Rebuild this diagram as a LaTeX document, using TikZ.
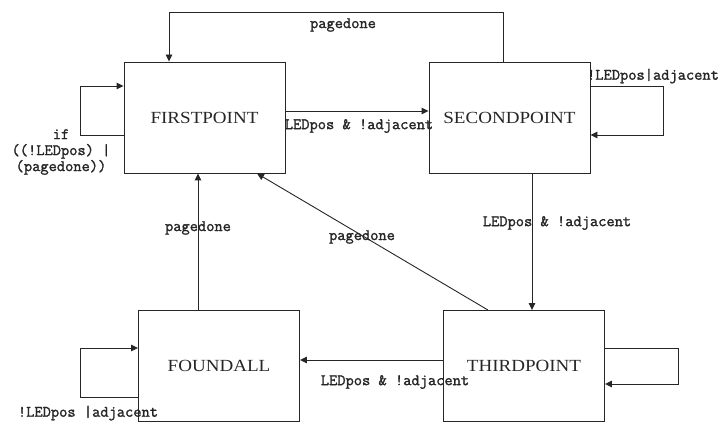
\documentclass[tikz,border=0pt]{standalone}
\usepackage{fontspec}
\setmainfont{Liberation Serif}
\newfontfamily\courlike[FakeBold=1.6]{Latin Modern Mono}
\usetikzlibrary{arrows.meta}
\tikzset{
  statebox/.style={draw=black!85, line width=0.9pt, minimum width=161pt, minimum height=111pt, inner sep=0pt,
    font=\fontsize{17}{19}\selectfont, text=black!85},
  arr/.style={draw=black!85, line width=0.9pt, -{Triangle[length=7pt,width=6.5pt]}},
  lbl/.style={font=\courlike\fontsize{16}{16}\selectfont, text=black!85, inner sep=0pt},
}
\newcommand{\wide}[1]{\scalebox{1.12}[1]{#1}}
\begin{document}
\begin{tikzpicture}[x=1pt,y=-1pt]
\useasboundingbox (0,0) rectangle (722,422);
\node[statebox] (first)  at (204.5,117.5) {\wide{FIRSTPOINT}};
\node[statebox] (second) at (509.5,117.5) {\wide{SECONDPOINT}};
\node[statebox] (found)  at (219,366) {\wide{FOUNDALL}};
\node[statebox] (third)  at (524,366) {\wide{THIRDPOINT}};
\coordinate (topcorner) at (169,12);
% top pagedone loop
\draw[arr] ([xshift=-6.5pt]second.north) |- (topcorner) -- ([xshift=-35.5pt]first.north);
\node[lbl] (l1) at (343,25) {pagedone};
% first -> second
\draw[arr] ([yshift=6.5pt]first.east) -- ([yshift=6.5pt]second.west);
\node[lbl] (l2) at (359,126) {LEDpos \& !adjacent};
% first self loop
\draw[arr] ([yshift=-17.5pt]first.west) -- ++(-43,0) |- ([yshift=31.5pt]first.west);
\node[lbl, align=center] (l3) at (61,152) {if\\((!LEDpos) |\\(pagedone))};
% second self loop
\draw[arr] ([yshift=31.5pt]second.east) -- ++(73,0) |- ([yshift=-17.5pt]second.east);
\node[lbl] (l4) at (653,76) {!LEDpos|adjacent};
% second -> third
\draw[arr] ([xshift=22.5pt]second.south) -- ([xshift=22.5pt]second.south |- third.north);
\node[lbl] (l5) at (557,223) {LEDpos \& !adjacent};
% third -> first
\draw[arr] ([xshift=-36pt]third.north) -- ([xshift=52.5pt]first.south);
\node[lbl] (l6) at (362,237) {pagedone};
% found -> first
\draw[arr] ([xshift=-21pt]found.north) -- ([xshift=-21pt]found.north |- first.south);
\node[lbl] (l7) at (198,228) {pagedone};
% third -> found
\draw[arr] ([yshift=6pt]third.west) -- ([yshift=6pt]found.east);
\node[lbl] (l8) at (395,382) {LEDpos \& !adjacent};
% found self loop
\draw[arr] ([yshift=-31pt]found.west) -- ++(-58,0) |- ([yshift=18pt]found.west);
\node[lbl] (l9) at (88,413) {!LEDpos |adjacent};
% third self loop
\draw[arr] ([yshift=18pt]third.east) -- ++(73,0) |- ([yshift=-18pt]third.east);
\end{tikzpicture}
\end{document}
